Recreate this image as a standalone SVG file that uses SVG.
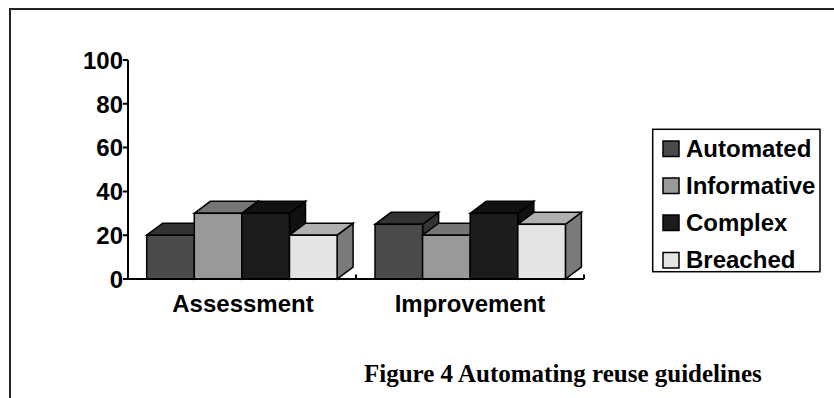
<svg xmlns="http://www.w3.org/2000/svg" width="834" height="398" viewBox="0 0 834 398">
<style>
  .lbl{font-family:"Liberation Sans",Arial,sans-serif;font-weight:bold;font-size:24px;fill:#000}
  .cap{font-family:"Liberation Serif","Times New Roman",serif;font-weight:bold;font-size:25px;fill:#000}
  .bar path,.bar rect{stroke:#000;stroke-width:1.5;stroke-linejoin:miter}
  .ax{stroke:#000;stroke-width:2;fill:none}
  .sw{stroke:#000;stroke-width:1.5}
  .auto-f{fill:#4a4a4a}.auto-t{fill:#333333}
  .info-f{fill:#999999}.info-t{fill:#757575}
  .comp-f{fill:#1c1c1c}.comp-t{fill:#111111}
  .brea-f{fill:#e4e4e4}.brea-t{fill:#b0b0b0}.brea-s{fill:#7a7a7a}
</style>
<rect x="0" y="0" width="834" height="398" fill="#fff"/>
<g id="frame">
  <path d="M10,398 L10,9 L834,9" fill="none" stroke="#222" stroke-width="2"/>
</g>
<g id="bars-assessment" class="bar">
  <g id="assessment-automated">
    <path class="auto-t" d="M194.3,235.2 L210.3,223.2 L210.3,267 L194.3,279 Z"/>
    <path class="auto-t" d="M146.7,235.2 L162.7,223.2 L210.3,223.2 L194.3,235.2 Z"/>
    <rect class="auto-f" x="146.7" y="235.2" width="47.6" height="43.8"/>
  </g>
  <g id="assessment-informative">
    <path class="info-t" d="M241.9,213.3 L257.9,201.3 L257.9,267 L241.9,279 Z"/>
    <path class="info-t" d="M194.3,213.3 L210.3,201.3 L257.9,201.3 L241.9,213.3 Z"/>
    <rect class="info-f" x="194.3" y="213.3" width="47.6" height="65.7"/>
  </g>
  <g id="assessment-complex">
    <path class="comp-t" d="M289.5,213.3 L305.5,201.3 L305.5,267 L289.5,279 Z"/>
    <path class="comp-t" d="M241.9,213.3 L257.9,201.3 L305.5,201.3 L289.5,213.3 Z"/>
    <rect class="comp-f" x="241.9" y="213.3" width="47.6" height="65.7"/>
  </g>
  <g id="assessment-breached">
    <path class="brea-s" d="M337.1,235.2 L353.1,223.2 L353.1,267 L337.1,279 Z"/>
    <path class="brea-t" d="M289.5,235.2 L305.5,223.2 L353.1,223.2 L337.1,235.2 Z"/>
    <rect class="brea-f" x="289.5" y="235.2" width="47.6" height="43.8"/>
  </g>
</g>
<g id="bars-improvement" class="bar">
  <g id="improvement-automated">
    <path class="auto-t" d="M422.6,224.3 L438.6,212.3 L438.6,267 L422.6,279 Z"/>
    <path class="auto-t" d="M375,224.3 L391,212.3 L438.6,212.3 L422.6,224.3 Z"/>
    <rect class="auto-f" x="375" y="224.3" width="47.6" height="54.7"/>
  </g>
  <g id="improvement-informative">
    <path class="info-t" d="M470.2,235.2 L486.2,223.2 L486.2,267 L470.2,279 Z"/>
    <path class="info-t" d="M422.6,235.2 L438.6,223.2 L486.2,223.2 L470.2,235.2 Z"/>
    <rect class="info-f" x="422.6" y="235.2" width="47.6" height="43.8"/>
  </g>
  <g id="improvement-complex">
    <path class="comp-t" d="M517.8,213.3 L533.8,201.3 L533.8,267 L517.8,279 Z"/>
    <path class="comp-t" d="M470.2,213.3 L486.2,201.3 L533.8,201.3 L517.8,213.3 Z"/>
    <rect class="comp-f" x="470.2" y="213.3" width="47.6" height="65.7"/>
  </g>
  <g id="improvement-breached">
    <path class="brea-s" d="M565.4,224.3 L581.4,212.3 L581.4,267 L565.4,279 Z"/>
    <path class="brea-t" d="M517.8,224.3 L533.8,212.3 L581.4,212.3 L565.4,224.3 Z"/>
    <rect class="brea-f" x="517.8" y="224.3" width="47.6" height="54.7"/>
  </g>
</g>
<g id="axes">
  <path class="ax" d="M128,60 L128,279 L584,279"/>
  <path class="ax" d="M123,60 H128 M123,103.8 H128 M123,147.6 H128 M123,191.4 H128 M123,235.2 H128 M123,279 H128"/>
  <path class="ax" d="M356,279 V274.5 M584,279 V274.5"/>
  <g id="y-labels" class="lbl" text-anchor="end">
    <text x="123" y="69">100</text>
    <text x="123" y="112.5">80</text>
    <text x="123" y="156.3">60</text>
    <text x="123" y="200">40</text>
    <text x="123" y="243.8">20</text>
    <text x="123" y="287.6">0</text>
  </g>
  <g id="x-labels" class="lbl" text-anchor="middle">
    <text x="243" y="311.5">Assessment</text>
    <text x="470" y="311.5">Improvement</text>
  </g>
</g>
<g id="legend">
  <rect x="652.7" y="129.3" width="167.3" height="142.4" fill="#fff" stroke="#000" stroke-width="1.5"/>
  <g id="legend-automated">
    <rect class="sw auto-f" x="663" y="141" width="16" height="15.5"/>
    <text class="lbl" x="686" y="156.5">Automated</text>
  </g>
  <g id="legend-informative">
    <rect class="sw info-f" x="663" y="178" width="16" height="15.5"/>
    <text class="lbl" x="686" y="193.5">Informative</text>
  </g>
  <g id="legend-complex">
    <rect class="sw comp-f" x="663" y="215" width="16" height="15.5"/>
    <text class="lbl" x="686" y="230.5">Complex</text>
  </g>
  <g id="legend-breached">
    <rect class="sw brea-f" x="663" y="252.5" width="16" height="15.5"/>
    <text class="lbl" x="686" y="268">Breached</text>
  </g>
</g>
<g id="caption">
  <text class="cap" x="364" y="382">Figure 4 Automating reuse guidelines</text>
</g>
</svg>
